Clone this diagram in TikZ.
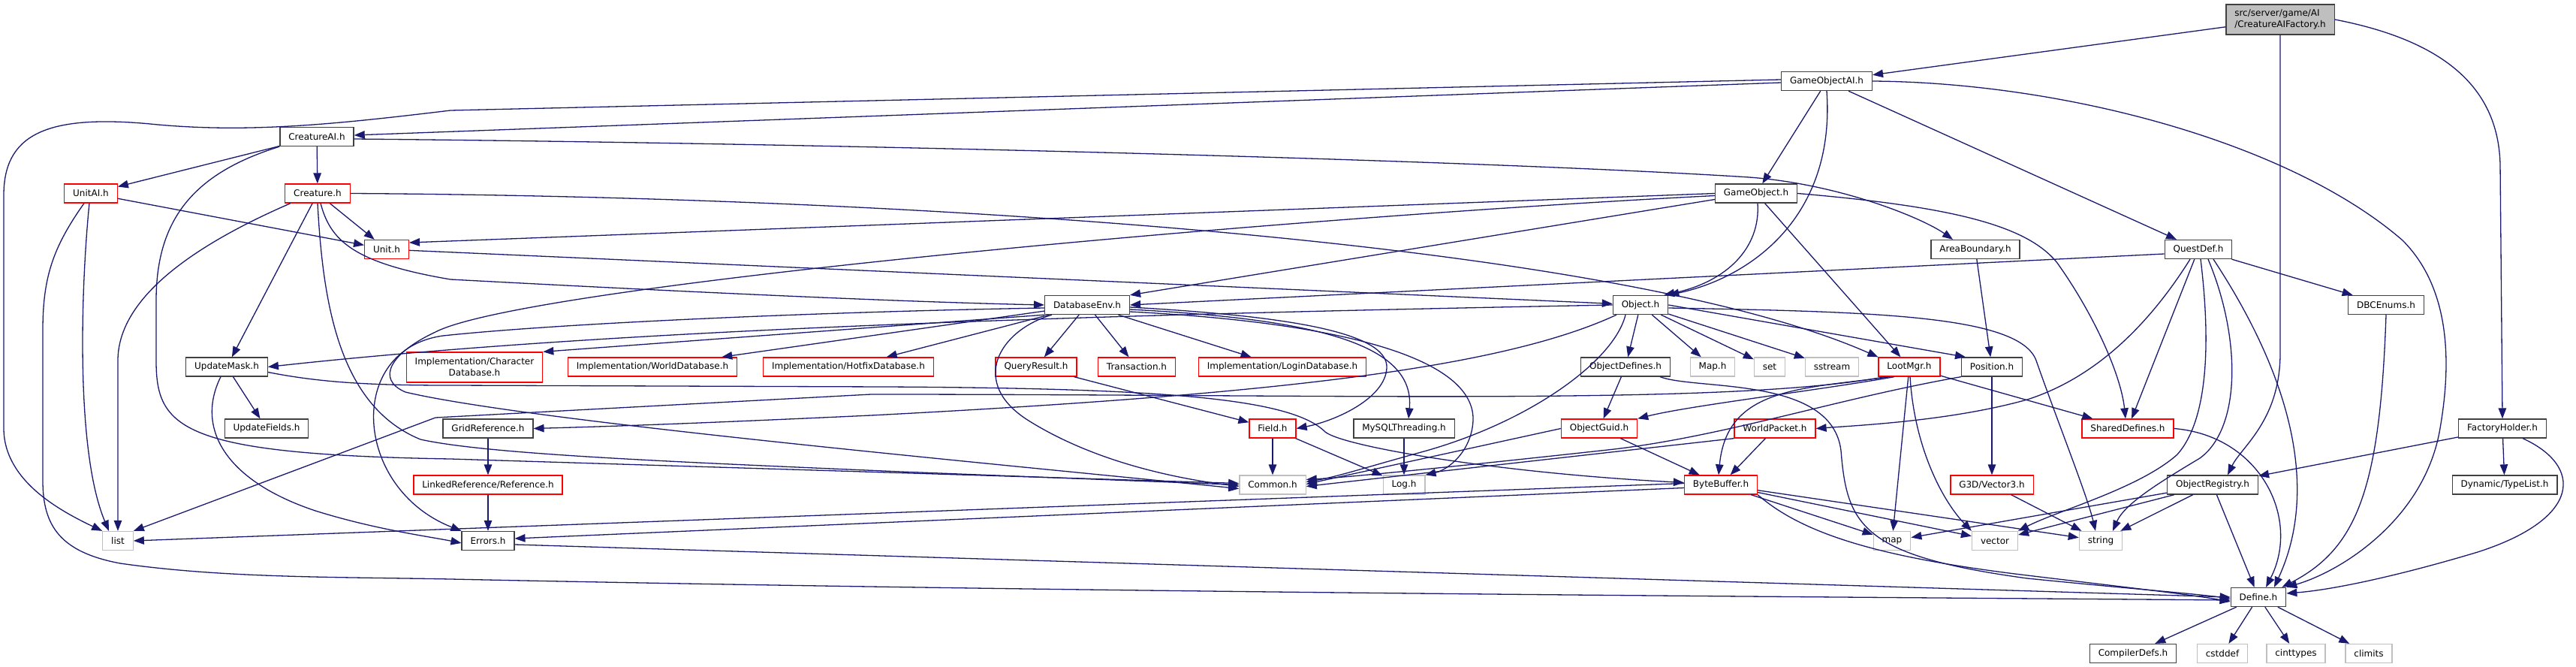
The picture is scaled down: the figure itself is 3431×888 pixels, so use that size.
\documentclass[tikz,border=0pt]{standalone}
\usepackage{fontspec}
\setmainfont{DejaVu Sans}
\usetikzlibrary{arrows.meta}
\definecolor{edgec}{RGB}{25,25,112}
\definecolor{nodeb}{RGB}{64,64,64}
\definecolor{nodeg}{RGB}{191,191,191}
\definecolor{nodered}{RGB}{255,0,0}
\begin{document}
\begin{tikzpicture}[x=1pt,y=-1pt,
  box/.style={draw, line width=1.3pt, fill=white, minimum height=25pt, inner xsep=11.4pt, inner ysep=2pt, font=\fontsize{12}{15}\selectfont},
  nb/.style={box, draw=nodeb},
  nr/.style={box, draw=nodered},
  ng/.style={box, draw=nodeg},
  e/.style={draw=edgec, line width=1.3pt, -{Triangle[length=14pt,width=10.5pt]}}]
\fill[white] (0,0) rectangle (3431,888);
\useasboundingbox (0,0) rectangle (3431,888);
% nodes
\node[nb, fill=nodeg, align=left, minimum height=40pt] (root) at (3037,26) {src/server/game/AI\\/CreatureAIFactory.h};
\node[nb] (goai) at (2433,108) {GameObjectAI.h};
\node[nb] (cai) at (422,182) {CreatureAI.h};
\node[nr] (unitai) at (121,257.5) {UnitAI.h};
\node[nr] (creature) at (423,257.5) {Creature.h};
\node[nb] (gobj) at (2339,257.5) {GameObject.h};
\node[nr] (unit) at (515,332) {Unit.h};
\node[nb] (area) at (2631,332) {AreaBoundary.h};
\node[nb] (quest) at (2928,332) {QuestDef.h};
\node[nb] (dbenv) at (1448,406) {DatabaseEnv.h};
\node[nb] (object) at (2185,406) {Object.h};
\node[nb] (dbc) at (3178,406) {DBCEnums.h};
\node[nb] (updmask) at (302,488.5) {UpdateMask.h};
\node[nr, align=center, minimum height=40pt] (chardb) at (632,489) {Implementation/Character\\Database.h};
\node[nr] (worlddb) at (869,488.5) {Implementation/WorldDatabase.h};
\node[nr] (hotfix) at (1130,488.5) {Implementation/HotfixDatabase.h};
\node[nr] (query) at (1380,488.5) {QueryResult.h};
\node[nr] (trans) at (1514,488.5) {Transaction.h};
\node[nr] (login) at (1708,488.5) {Implementation/LoginDatabase.h};
\node[nb] (objdef) at (2165,488.5) {ObjectDefines.h};
\node[ng] (maph) at (2281,488.5) {Map.h};
\node[ng] (set) at (2357,488.5) {set};
\node[ng] (sstream) at (2440,488.5) {sstream};
\node[nr] (loot) at (2543,488.5) {LootMgr.h};
\node[nb] (position) at (2653,488.5) {Position.h};
\node[nb] (updfields) at (355,570.5) {UpdateFields.h};
\node[nb] (gridref) at (650,570.5) {GridReference.h};
\node[nr] (field) at (1695,570.5) {Field.h};
\node[nb] (mysql) at (1870,570.5) {MySQLThreading.h};
\node[nr] (objguid) at (2130,570.5) {ObjectGuid.h};
\node[nr] (wpacket) at (2364,570.5) {WorldPacket.h};
\node[nr] (shared) at (2834,570.5) {SharedDefines.h};
\node[nb] (factory) at (3333,570.5) {FactoryHolder.h};
\node[nr] (linkref) at (650,645.5) {LinkedReference/Reference.h};
\node[ng] (common) at (1695,645.5) {Common.h};
\node[ng] (log) at (1870,645.5) {Log.h};
\node[nr] (bytebuf) at (2292,645.5) {ByteBuffer.h};
\node[nr] (vec3) at (2653,645.5) {G3D/Vector3.h};
\node[nb] (objreg) at (2947,645.5) {ObjectRegistry.h};
\node[nb] (typelist) at (3336,645.5) {Dynamic/TypeList.h};
\node[ng] (list) at (157,720) {list};
\node[nb] (errors) at (650,720) {Errors.h};
\node[ng] (map) at (2520,720) {map};
\node[ng] (vector) at (2657,720) {vector};
\node[ng] (string) at (2798,720) {string};
\node[nb] (define) at (3008,795) {Define.h};
\node[nb] (compdefs) at (2841,870) {CompilerDefs.h};
\node[ng] (cstddef) at (2960,870) {cstddef};
\node[ng] (cinttypes) at (3058,870) {cinttypes};
\node[ng] (climits) at (3155,870) {climits};
% root
\draw[e] (root) -- (goai);
\draw[e] (root.south) -- (3037,470) .. controls (3037,560) and (2985,595) .. ([xshift=20pt]objreg.north);
\draw[e] (root.east) .. controls (3260,55) and (3328,120) .. (3330,220) -- (factory.north);
% GameObjectAI
\draw[e] ([yshift=-2pt]goai.west) -- ([yshift=2pt]cai.east);
\draw[e] ([yshift=2pt]goai.west) -- (600,147) .. controls (450,165) and (330,178) .. (200,165) .. controls (60,152) and (5,180) .. (5,260) -- (5,570) .. controls (5,640) and (80,680) .. (list.north west);
\draw[e] (goai) -- (gobj);
\draw[e] (goai.south) .. controls (2445,290) and (2330,370) .. (object.north east);
\draw[e] (goai) -- (quest);
\draw[e] (goai.east) .. controls (2750,110) and (3050,190) .. (3200,320) .. controls (3270,390) and (3262,500) .. (3250,570) .. controls (3230,690) and (3120,760) .. (define.north east);
% CreatureAI
\draw[e] (cai) -- (unitai);
\draw[e] (cai) -- (creature);
\draw[e] (cai.south west) .. controls (260,230) and (208,290) .. (208,400) -- (208,480) .. controls (208,570) and (240,605) .. (600,611) -- ([yshift=2pt]common.west);
\draw[e] ([yshift=-3pt]cai.east) .. controls (1200,192) and (2000,215) .. (2330,236) .. controls (2450,245) and (2560,290) .. ([xshift=-30pt]area.north);
% UnitAI
\draw[e] (unitai) -- (unit);
\draw[e] ([xshift=-2pt]unitai.south) .. controls (108,380) and (100,600) .. ([xshift=-12pt]list.north);
\draw[e] ([xshift=-9pt]unitai.south) .. controls (70,330) and (57,370) .. (57,440) -- (57,640) .. controls (57,700) and (80,735) .. (160,750) .. controls (300,770) and (450,768) .. (600,771) .. controls (1500,790) and (2500,795) .. ([yshift=-4pt]define.west);
% Creature
\draw[e] (creature) -- (unit);
\draw[e] (creature) -- (updmask);
\draw[e] ([xshift=-36pt]creature.south) .. controls (250,330) and (157,400) .. (157,480) -- (list.north);
\draw[e] (creature.south) .. controls (430,400) and (450,540) .. (560,585) .. controls (650,605) and (900,615) .. (1200,628) -- (common.west);
\draw[e] ([xshift=4pt]creature.south) .. controls (440,320) and (470,350) .. (600,372) .. controls (900,388) and (1200,402) .. (dbenv.west);
\draw[e] (creature.east) .. controls (1200,262) and (2150,320) .. (loot.north west);
% Unit
\draw[e] (unit) -- (object);
% GameObject
\draw[e] (gobj.west) -- ([yshift=9pt]unit.east);
\draw[e] ([yshift=-8pt]gobj.west) -- (dbenv.north east);
\draw[e] ([yshift=-3pt]gobj.west) .. controls (1700,290) and (700,380) .. (580,442) .. controls (520,470) and (500,505) .. (540,522) .. controls (700,560) and (1300,615) .. ([yshift=-5pt]common.west);
\draw[e] ([xshift=2pt]gobj.south) .. controls (2345,330) and (2300,375) .. ([xshift=-6pt]object.north east);
\draw[e] (gobj) -- (loot);
\draw[e] (gobj.east) .. controls (2600,275) and (2700,300) .. (2740,350) .. controls (2790,420) and (2825,500) .. ([xshift=-3pt]shared.north);
% AreaBoundary
\draw[e] (area) -- (position);
% QuestDef
\draw[e] ([yshift=-6pt]quest.west) -- (dbenv.east);
\draw[e] (quest) -- (dbc);
\draw[e] (quest) -- (shared);
\draw[e] ([xshift=-11pt]quest.south) .. controls (2870,420) and (2800,500) .. (2700,532) .. controls (2600,560) and (2480,566) .. (wpacket.east);
\draw[e] ([xshift=3pt]quest.south) .. controls (2945,460) and (2940,560) .. (2900,605) .. controls (2850,650) and (2740,680) .. (vector.north east);
\draw[e] ([xshift=13pt]quest.south) .. controls (2985,450) and (2985,570) .. (2930,610) .. controls (2880,640) and (2830,670) .. ([xshift=16pt]string.north);
\draw[e] ([xshift=20pt]quest.south) .. controls (3050,500) and (3090,650) .. ([xshift=21pt]define.north);
% DBCEnums
\draw[e] (dbc.south) .. controls (3170,650) and (3140,730) .. ([xshift=-6pt]define.north east);
% DatabaseEnv
\draw[e] (dbenv.south west) -- (chardb.north east);
\draw[e] (dbenv) -- (worlddb);
\draw[e] (dbenv) -- (hotfix);
\draw[e] (dbenv) -- (query);
\draw[e] (dbenv) -- (trans);
\draw[e] (dbenv) -- (login);
\draw[e] ([xshift=-47pt]dbenv.south) .. controls (1330,440) and (1290,510) .. (1370,560) .. controls (1450,610) and (1550,635) .. ([yshift=-2pt]common.west);
\draw[e] ([yshift=-4pt]dbenv.west) .. controls (1100,415) and (750,430) .. (590,447) .. controls (460,465) and (470,650) .. (errors.north west);
\draw[e] ([yshift=-3pt]dbenv.east) .. controls (1700,420) and (1850,440) .. (1847,490) .. controls (1845,530) and (1780,560) .. (field.east);
\draw[e] ([yshift=-6pt]dbenv.east) .. controls (1760,425) and (1885,460) .. ([xshift=6pt]mysql.north);
\draw[e] ([yshift=-9pt]dbenv.east) .. controls (1800,430) and (1965,480) .. (1962,560) .. controls (1960,600) and (1930,625) .. (log.north east);
% Object
\draw[e] (object.west) .. controls (1400,420) and (800,440) .. (updmask.east);
\draw[e] ([xshift=-32pt]object.south) .. controls (2000,490) and (1700,525) .. (1160,553) .. controls (900,565) and (800,568) .. (gridref.east);
\draw[e] ([xshift=-20pt]object.south) .. controls (2150,480) and (2040,560) .. (1900,600) .. controls (1820,622) and (1780,635) .. ([yshift=4pt]common.east);
\draw[e] (object) -- (objdef);
\draw[e] (object) -- (maph);
\draw[e] (object) -- (set);
\draw[e] (object) -- (sstream);
\draw[e] (object.east) -- ([xshift=-35pt]position.north);
\draw[e] ([yshift=-4pt]object.east) .. controls (2500,415) and (2690,420) .. (2712,480) .. controls (2740,560) and (2780,660) .. ([xshift=-7pt]string.north);
% LootMgr
\draw[e] (loot) -- (shared);
\draw[e] (loot) -- (map);
\draw[e] ([xshift=1pt]loot.south) .. controls (2550,600) and (2590,670) .. (vector.north west);
\draw[e] ([xshift=-26pt]loot.south) .. controls (2400,518) and (2300,515) .. ([xshift=-3pt]bytebuf.north);
\draw[e] ([xshift=-20pt]loot.south) .. controls (2420,520) and (2250,540) .. (objguid.north east);
\draw[e] ([xshift=-32pt]loot.south) .. controls (2300,540) and (1800,525) .. (1160,525) -- (580,556) -- (list.north east);
% Position
\draw[e] (position) -- (vec3);
\draw[e] (position.south west) .. controls (2450,530) and (2300,580) .. (2150,598) .. controls (1950,620) and (1800,635) .. ([yshift=7pt]common.east);
% ObjectDefines
\draw[e] (objdef) -- (objguid);
\draw[e] ([xshift=46pt]objdef.south) .. controls (2260,520) and (2440,500) .. (2452,600) .. controls (2460,700) and (2480,740) .. (2700,770) .. controls (2850,785) and (2920,790) .. ([yshift=-2pt]define.west);
% ObjectGuid, WorldPacket
\draw[e] (objguid) -- (bytebuf);
\draw[e] (objguid.west) -- ([yshift=1pt]common.east);
\draw[e] (wpacket) -- (bytebuf);
\draw[e] (wpacket.south west) -- ([yshift=-2pt]common.east);
% ByteBuffer
\draw[e] ([yshift=2pt]bytebuf.west) -- (list.east);
\draw[e] ([yshift=-4pt]bytebuf.west) -- ([yshift=3pt]errors.east);
\draw[e] (bytebuf) -- (map);
\draw[e] (bytebuf) -- (vector);
\draw[e] (bytebuf) -- (string);
\draw[e] (bytebuf.south east) .. controls (2400,710) and (2500,742) .. (2700,766) .. controls (2850,784) and (2920,792) .. ([yshift=-6pt]define.west);
% others
\draw[e] (vec3) -- (string);
\draw[e] (shared.east) .. controls (3010,580) and (3065,690) .. ([xshift=10pt]define.north);
\draw[e] (field) -- (common);
\draw[e] (field) -- (log);
\draw[e] (query) -- (field);
\draw[e] (mysql) -- (log);
\draw[e] (gridref) -- (linkref);
\draw[e] (linkref) -- (errors);
\draw[e] (updmask) -- (updfields);
\draw[e] ([xshift=-8pt]updmask.south) .. controls (260,570) and (300,640) .. (420,680) .. controls (500,705) and (570,714) .. ([yshift=-3pt]errors.west);
\draw[e] ([yshift=-7pt]updmask.east) .. controls (430,510) and (500,513) .. (600,513) -- (1180,515) .. controls (1550,517) and (1720,530) .. (1765,575) .. controls (1790,595) and (2000,630) .. ([yshift=3pt]bytebuf.west);
\draw[e] ([yshift=-5pt]errors.east) -- (define.west);
% FactoryHolder, ObjectRegistry
\draw[e] ([xshift=27pt]factory.south) .. controls (3440,620) and (3440,690) .. (3300,735) .. controls (3200,765) and (3110,785) .. ([yshift=5pt]define.east);
\draw[e] (factory) -- (typelist);
\draw[e] (factory) -- (objreg);
\draw[e] (objreg) -- (define);
\draw[e] (objreg) -- (map);
\draw[e] (objreg) -- (vector);
\draw[e] (objreg) -- (string);
% Define
\draw[e] (define) -- (compdefs);
\draw[e] (define) -- (cstddef);
\draw[e] (define) -- (cinttypes);
\draw[e] (define) -- (climits);
\end{tikzpicture}
\end{document}
